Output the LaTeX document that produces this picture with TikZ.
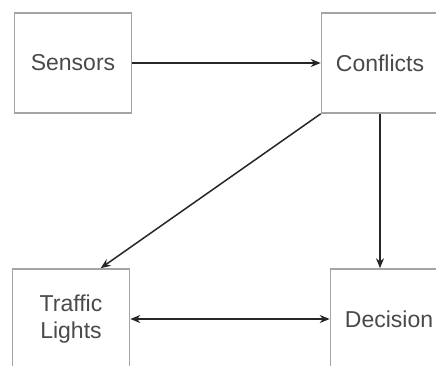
\documentclass[tikz,border=0pt]{standalone}
\usepackage{fontspec}
\setmainfont{Liberation Sans}
\usepackage{xcolor}
\usetikzlibrary{positioning,calc,arrows.meta}

\definecolor{boxgray}{HTML}{A4A4A4}
\definecolor{txtgray}{HTML}{4A4A4A}
\tikzset{
  block/.style={draw=boxgray, line width=1.6pt, fill=white, minimum width=117pt,
    minimum height=100pt, align=center, text=txtgray, inner sep=0pt,
    font=\fontsize{23}{27}\selectfont},
  link/.style={draw=black!85, line width=1.5pt, -{Stealth[length=10pt,width=8pt]}}
}

\begin{document}
\begin{tikzpicture}[x=1pt,y=-1pt]
    \useasboundingbox (0,0) rectangle (436,366);
    \clip (0,0) rectangle (436,366);

    % Blocks
    \node[block] (sensors) at (73,63) {Sensors};
    \node[block] (conflicts) at (380,63) {Conflicts};
    \node[block] (traffic) at (71,319) {Traffic\\Lights};
    \node[block] (decision) at (389,319) {Decision};

    % Links
    \draw[link] (sensors) -- (conflicts);
    \draw[link] (conflicts.south) -- (conflicts.south |- decision.north);
    \draw[link] (conflicts.south west) -- ($(traffic.north)!0.5!(traffic.north east)$);
    \draw[link, {Stealth[length=10pt,width=8pt]}-{Stealth[length=10pt,width=8pt]}] (traffic) -- (decision);
\end{tikzpicture}
\end{document}
